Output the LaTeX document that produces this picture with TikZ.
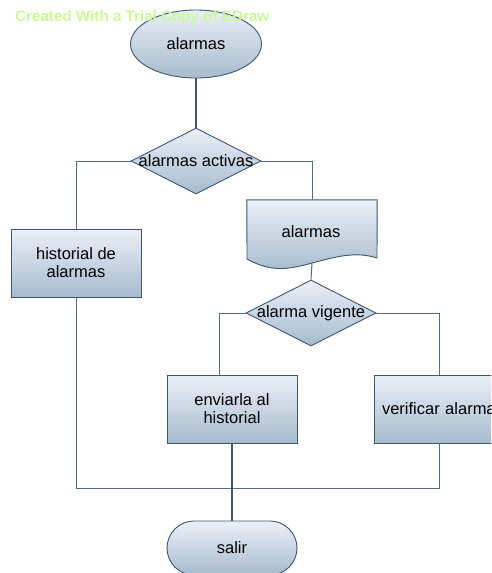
\documentclass[tikz,border=0pt]{standalone}
\usepackage{fontspec}
\setmainfont{Liberation Sans}
\usetikzlibrary{shapes.geometric}
\definecolor{edge}{HTML}{3E5670}
\definecolor{wire}{HTML}{4F6D8A}
\definecolor{topfill}{HTML}{EBEFF7}
\definecolor{botfill}{HTML}{A6BBCE}
\definecolor{mark}{RGB}{200,250,150}
\begin{document}
\begin{tikzpicture}[x=1pt,y=-1pt,
  font=\fontsize{16.5}{18}\selectfont,
  shaded/.style={draw=edge,line width=0.9pt,top color=topfill,bottom color=botfill},
  procbox/.style={shaded,rectangle,minimum width=130pt,minimum height=68pt,inner sep=0pt,align=center},
  decision/.style={shaded,diamond,minimum width=130pt,minimum height=66pt,inner sep=0pt},
  wire/.style={draw=wire,line width=1pt},
  thickwire/.style={draw=edge,line width=1.8pt}]
\useasboundingbox (0,0) rectangle (491,573);
\clip (0,0) rectangle (491,573);

% start
\node[shaded,ellipse,minimum width=131pt,minimum height=68pt,inner sep=0pt] (start) at (196,44) {alarmas};

% first decision
\node[decision,label={center:alarmas activas}] (act) at (196,161) {};

% history box
\node[procbox] (hist) at (76,263) {historial de\\alarmas};

% document shape
\node[minimum width=130pt,minimum height=59pt,inner sep=0pt] (doc) at (312,229.5) {};
\coordinate (docb) at (312,263);
\path[shaded] (doc.north west) -- (doc.north east) -- (377,258)
  .. controls (355,251) and (335,257) .. (docb)
  .. controls (290,269) and (272,273) .. (247,259) -- cycle;
\node (doclabel) at (311,232) {alarmas};

% second decision
\node[decision,label={center:alarma vigente}] (vig) at (311,313) {};

% action boxes (the right one runs past the page edge)
\node[procbox] (env) at (232,409) {enviarla al\\historial};
\node[procbox,text width=130pt,align=left] (ver) at (439,409) {\hspace*{8pt}verificar alarma};

% end
\node[shaded,rectangle,rounded corners=27pt,minimum width=130pt,minimum height=54pt,inner sep=0pt] (stop) at (232,548) {salir};

% connectors
\coordinate (merge) at (232,488);
\draw[thickwire] (start.south) -- (act.north);
\draw[wire] (act.west) -| (hist.north);
\draw[wire] (act.east) -| (doc.north);
\draw[wire] (docb) -- (vig.north);
\draw[wire] (vig.west) -| ([xshift=-13pt]env.north);
\draw[wire] (vig.east) -| (ver.north);
\draw[wire] (ver.south) |- (merge);
\draw[wire] (hist.south) |- (merge);
\draw[thickwire] (env.south) -- (stop.north);

% trial watermark, printed over everything
\node[anchor=west,text=mark,font=\fontsize{15.2}{17}\selectfont\bfseries,inner sep=0pt] (wm) at (15,18) {Created With a Trial Copy of EDraw};
\end{tikzpicture}
\end{document}
